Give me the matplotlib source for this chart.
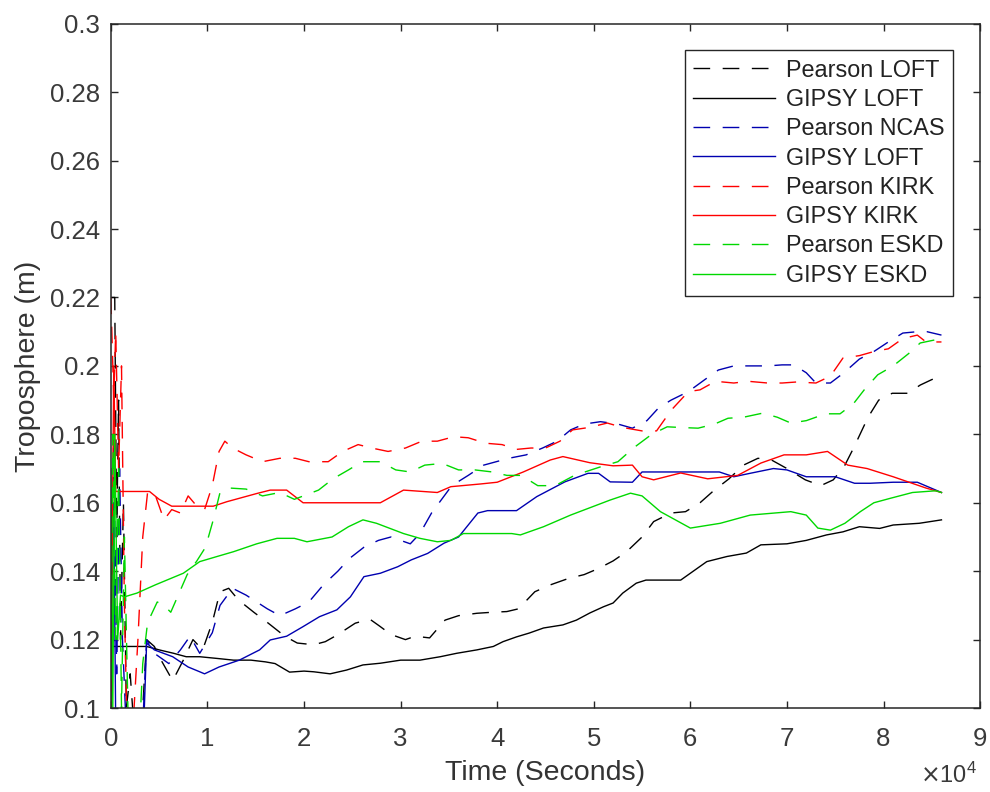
import matplotlib
matplotlib.use("Agg")
import matplotlib.pyplot as plt
from matplotlib.ticker import FuncFormatter, MultipleLocator

plt.rcParams['font.family'] = ['Liberation Sans', 'DejaVu Sans']

# time in units of 1e4 s, troposphere delay in m
t_p_loft = [0, 0.04, 0.06, 0.08, 0.10, 0.13, 0.16, 0.20, 0.25, 0.32, 0.37, 0.45, 0.52, 0.64, 0.75, 0.85,
            0.95, 1.05, 1.13, 1.22, 1.32, 1.48, 1.63, 1.8, 1.93, 2.1, 2.22, 2.34, 2.53, 2.68, 2.78, 2.9,
            3.05, 3.15, 3.3, 3.46, 3.6, 3.79, 3.95, 4.1, 4.22, 4.39, 4.55, 4.74, 4.9, 5.05, 5.2, 5.34,
            5.5, 5.62, 5.8, 5.95, 6.1, 6.24, 6.4, 6.55, 6.7, 6.84, 7.0, 7.19, 7.35, 7.48, 7.6, 7.69,
            7.84, 7.95, 8.09, 8.25, 8.38, 8.5, 8.6]
v_p_loft = [0.22, 0.22, 0.15, 0.19, 0.12, 0.16, 0.10, 0.11, 0.09, 0.095, 0.12, 0.118, 0.114, 0.108, 0.114, 0.12,
            0.117, 0.125, 0.134, 0.135, 0.1316, 0.128, 0.1248, 0.121, 0.119, 0.1185, 0.1194, 0.1213, 0.1248, 0.126, 0.124, 0.1215,
            0.12, 0.121, 0.1205, 0.1257, 0.127, 0.1277, 0.128, 0.1282, 0.129, 0.134, 0.136, 0.1379, 0.139, 0.1408, 0.143, 0.1457,
            0.15, 0.1545, 0.157, 0.1574, 0.16, 0.1635, 0.167, 0.171, 0.173, 0.1725, 0.17, 0.1667, 0.165, 0.1667, 0.171, 0.176,
            0.185, 0.19, 0.192, 0.192, 0.1944, 0.196, 0.197]

t_g_loft = [0, 0.003, 0.37, 0.5, 0.65, 0.78, 0.92, 1.1, 1.27, 1.45, 1.6, 1.7, 1.85, 2.0, 2.1, 2.27, 2.44,
            2.61, 2.79, 3.0, 3.2, 3.41, 3.58, 3.79, 3.96, 4.06, 4.2, 4.33, 4.48, 4.68, 4.82, 4.96, 5.1,
            5.2, 5.3, 5.44, 5.54, 5.69, 5.9, 6.0, 6.17, 6.38, 6.58, 6.73, 7.0, 7.2, 7.41, 7.58, 7.75,
            7.96, 8.1, 8.37, 8.6]
v_g_loft = [0.095, 0.118, 0.118, 0.117, 0.116, 0.115, 0.115, 0.1145, 0.114, 0.114, 0.1135, 0.113, 0.1105, 0.1108, 0.1106, 0.110, 0.1111,
            0.1126, 0.1131, 0.114, 0.114, 0.115, 0.116, 0.117, 0.118, 0.1194, 0.1208, 0.1219, 0.1234, 0.1243, 0.1257, 0.1278, 0.1296,
            0.1307, 0.1336, 0.1365, 0.1374, 0.1374, 0.1374, 0.1394, 0.1428, 0.1443, 0.1453, 0.1477, 0.148, 0.149, 0.1506, 0.1515, 0.153,
            0.1525, 0.1535, 0.154, 0.155]

t_p_ncas = [0, 0.03, 0.06, 0.09, 0.12, 0.15, 0.25, 0.33, 0.37, 0.45, 0.6, 0.72, 0.82, 0.92, 1.05, 1.13,
            1.26, 1.4, 1.62, 1.75, 1.91, 2.05, 2.2, 2.35, 2.47, 2.62, 2.77, 2.9, 3.1, 3.2, 3.32, 3.53,
            3.7, 3.86, 4.12, 4.3, 4.47, 4.62, 4.76, 4.9, 5.07, 5.25, 5.4, 5.55, 5.67, 5.8, 5.98, 6.15,
            6.29, 6.45, 6.62, 6.8, 6.95, 7.07, 7.2, 7.3, 7.45, 7.59, 7.75, 7.9, 8.05, 8.2, 8.35, 8.45, 8.6]
v_p_ncas = [0.12, 0.18, 0.11, 0.17, 0.12, 0.10, 0.095, 0.095, 0.12, 0.116, 0.113, 0.117, 0.121, 0.116, 0.122, 0.13,
            0.135, 0.133, 0.129, 0.127, 0.129, 0.131, 0.136, 0.14, 0.1437, 0.147, 0.149, 0.15, 0.148, 0.151, 0.157, 0.165,
            0.168, 0.171, 0.173, 0.174, 0.176, 0.178, 0.1813, 0.183, 0.1837, 0.183, 0.1818, 0.184, 0.1877, 0.19, 0.1925, 0.196,
            0.1988, 0.2, 0.2, 0.2, 0.2003, 0.2003, 0.198, 0.195, 0.195, 0.198, 0.202, 0.2042, 0.207, 0.2096, 0.21, 0.21, 0.209]

t_g_ncas = [0, 0.03, 0.05, 0.34, 0.37, 0.45, 0.64, 0.8, 0.92, 0.97, 1.12, 1.33, 1.54, 1.65, 1.82, 1.99,
            2.16, 2.34, 2.48, 2.62, 2.79, 2.97, 3.11, 3.28, 3.45, 3.6, 3.8, 3.9, 4.2, 4.41, 4.7, 4.94,
            5.05, 5.17, 5.4, 5.5, 6.0, 6.3, 6.45, 6.6, 6.86, 7.0, 7.2, 7.5, 7.7, 7.86, 8.1, 8.35, 8.6]
v_g_ncas = [0.12, 0.16, 0.095, 0.095, 0.119, 0.117, 0.115, 0.112, 0.1106, 0.110, 0.112, 0.114, 0.117, 0.1199, 0.121, 0.1238,
            0.1267, 0.1287, 0.1325, 0.1384, 0.1394, 0.1413, 0.1433, 0.1452, 0.1482, 0.150, 0.157, 0.1577, 0.1577, 0.1618, 0.1661, 0.1686,
            0.1686, 0.1661, 0.166, 0.169, 0.169, 0.169, 0.1676, 0.1685, 0.170, 0.1696, 0.1676, 0.1676, 0.1657, 0.1657, 0.166, 0.166, 0.163]

t_p_kirk = [0, 0.03, 0.05, 0.08, 0.11, 0.14, 0.17, 0.23, 0.28, 0.33, 0.38, 0.45, 0.55, 0.63, 0.72, 0.8,
            0.89, 0.97, 1.05, 1.12, 1.18, 1.26, 1.4, 1.57, 1.75, 1.91, 2.05, 2.25, 2.4, 2.56, 2.7, 2.87,
            3.05, 3.22, 3.38, 3.55, 3.7, 3.88, 4.05, 4.2, 4.35, 4.5, 4.65, 4.78, 4.95, 5.14, 5.3, 5.5,
            5.65, 5.8, 5.98, 6.1, 6.26, 6.45, 6.6, 6.8, 6.95, 7.1, 7.3, 7.45, 7.58, 7.75, 7.9, 8.05,
            8.2, 8.35, 8.44, 8.6]
v_p_kirk = [0.22, 0.19, 0.21, 0.17, 0.20, 0.13, 0.09, 0.095, 0.12, 0.15, 0.163, 0.163, 0.155, 0.158, 0.157, 0.162,
            0.159, 0.158, 0.165, 0.175, 0.178, 0.176, 0.174, 0.172, 0.173, 0.173, 0.172, 0.172, 0.175, 0.177, 0.176, 0.175,
            0.176, 0.178, 0.178, 0.1793, 0.179, 0.1774, 0.177, 0.1756, 0.176, 0.176, 0.178, 0.1813, 0.182, 0.1833, 0.182, 0.181,
            0.181, 0.187, 0.1925, 0.193, 0.1955, 0.195, 0.1955, 0.195, 0.195, 0.1953, 0.195, 0.197, 0.2023, 0.203, 0.2042, 0.205,
            0.208, 0.209, 0.207, 0.207]

t_g_kirk = [0, 0.03, 0.05, 0.13, 0.4, 0.5, 0.63, 1.06, 1.2, 1.51, 1.65, 1.82, 1.99, 2.79, 3.03, 3.38,
            3.52, 3.83, 4.0, 4.27, 4.55, 4.68, 4.96, 5.2, 5.4, 5.5, 5.62, 5.9, 6.18, 6.49, 6.73, 6.97,
            7.2, 7.42, 7.63, 7.83, 8.1, 8.44, 8.6]
v_g_kirk = [0.10, 0.20, 0.1633, 0.1633, 0.1633, 0.161, 0.159, 0.159, 0.1603, 0.1627, 0.1637, 0.1637, 0.16, 0.16, 0.1637, 0.163,
            0.1647, 0.1655, 0.166, 0.169, 0.1725, 0.1735, 0.1717, 0.1708, 0.171, 0.1676, 0.1667, 0.1687, 0.167, 0.168, 0.1716, 0.174,
            0.174, 0.175, 0.171, 0.170, 0.1676, 0.1643, 0.163]

t_p_eskd = [0, 0.02, 0.05, 0.08, 0.11, 0.14, 0.18, 0.3, 0.33, 0.38, 0.48, 0.55, 0.62, 0.79, 0.89, 0.98,
            1.06, 1.13, 1.23, 1.4, 1.57, 1.75, 1.9, 2.15, 2.3, 2.46, 2.6, 2.79, 2.95, 3.1, 3.25, 3.43,
            3.6, 3.77, 3.95, 4.1, 4.25, 4.42, 4.6, 4.8, 5.07, 5.25, 5.41, 5.6, 5.76, 5.9, 6.08, 6.25,
            6.39, 6.55, 6.75, 6.9, 7.04, 7.2, 7.4, 7.55, 7.69, 7.8, 7.94, 8.1, 8.26, 8.38, 8.6]
v_p_eskd = [0.10, 0.18, 0.12, 0.17, 0.10, 0.15, 0.095, 0.095, 0.113, 0.125, 0.131, 0.13, 0.128, 0.139, 0.143, 0.147,
            0.155, 0.163, 0.1643, 0.164, 0.162, 0.163, 0.161, 0.1637, 0.167, 0.1696, 0.172, 0.172, 0.1696, 0.169, 0.171, 0.1715,
            0.1696, 0.1696, 0.169, 0.168, 0.168, 0.165, 0.165, 0.168, 0.1705, 0.172, 0.176, 0.18, 0.1822, 0.182, 0.1818, 0.183,
            0.1847, 0.185, 0.1862, 0.185, 0.1833, 0.184, 0.186, 0.186, 0.189, 0.193, 0.1974, 0.2, 0.2036, 0.2067, 0.208]

t_g_eskd = [0, 0.02, 0.04, 0.07, 0.1, 0.14, 0.27, 0.46, 0.75, 0.92, 1.1, 1.27, 1.51, 1.72, 1.9, 2.03,
            2.29, 2.46, 2.61, 2.75, 3.03, 3.2, 3.38, 3.52, 3.65, 4.15, 4.24, 4.48, 4.76, 5.17, 5.38, 5.5,
            5.69, 6.0, 6.31, 6.62, 7.04, 7.2, 7.32, 7.45, 7.6, 7.76, 7.9, 8.07, 8.3, 8.54, 8.6]
v_g_eskd = [0.17, 0.10, 0.18, 0.12, 0.133, 0.1325, 0.1336, 0.136, 0.1394, 0.1428, 0.1443, 0.1457, 0.148, 0.1496, 0.1496, 0.1486,
            0.150, 0.153, 0.155, 0.154, 0.151, 0.1496, 0.1486, 0.149, 0.151, 0.151, 0.1506, 0.153, 0.1564, 0.1608, 0.1628, 0.162,
            0.1574, 0.1526, 0.154, 0.1564, 0.1574, 0.1564, 0.1526, 0.152, 0.154, 0.1574, 0.16, 0.1613, 0.163, 0.1635, 0.163]

labels = ['Pearson LOFT', 'GIPSY LOFT', 'Pearson NCAS', 'GIPSY LOFT',
          'Pearson KIRK', 'GIPSY KIRK', 'Pearson ESKD', 'GIPSY ESKD']

blk = '#000000'
blu = '#0000b0'
red = '#ff0000'
grn = '#00d800'
dash = (0, (12, 9))

series = [
    (t_p_loft, v_p_loft, blk, dash),
    (t_g_loft, v_g_loft, blk, '-'),
    (t_p_ncas, v_p_ncas, blu, dash),
    (t_g_ncas, v_g_ncas, blu, '-'),
    (t_p_kirk, v_p_kirk, red, dash),
    (t_g_kirk, v_g_kirk, red, '-'),
    (t_p_eskd, v_p_eskd, grn, dash),
    (t_g_eskd, v_g_eskd, grn, '-'),
]

fig = plt.figure(figsize=(9.9, 7.92), dpi=100)
ax = fig.add_axes([0.112, 0.106, 0.878, 0.864])

for (t, v, c, ls), lab in zip(series, labels):
    ax.plot([x * 1e4 for x in t], v, color=c, linestyle=ls, linewidth=1.0, label=lab)

ax.set_xlim(0, 9e4)
ax.set_ylim(0.1, 0.3)
ax.xaxis.set_major_locator(MultipleLocator(1e4))
ax.yaxis.set_major_locator(MultipleLocator(0.02))
ax.xaxis.set_major_formatter(FuncFormatter(lambda x, p: '%g' % round(x / 1e4, 3)))
ax.yaxis.set_major_formatter(FuncFormatter(lambda y, p: '%g' % round(y, 3)))

axc = '#262626'
for s in ax.spines.values():
    s.set_color(axc)
    s.set_linewidth(1.1)
ax.tick_params(direction='in', length=5, width=1.0, colors=axc, labelsize=18.5,
               top=True, right=True, pad=8)
ax.tick_params(axis='x', pad=14)
for lab in ax.get_xticklabels() + ax.get_yticklabels():
    lab.set_color('#3a3a3a')

ax.set_xlabel('Time (Seconds)', fontsize=20.5, color='#333333', labelpad=6)
ax.set_ylabel('Troposphere (m)', fontsize=20.5, color='#333333', labelpad=6)
fig.text(0.987, 0.005, r'$\times\mathregular{10^4}$', ha='right', va='bottom',
         fontsize=17, color='#3a3a3a')

leg = ax.legend(loc='upper right', bbox_to_anchor=(0.969, 0.962), borderaxespad=0,
                fontsize=16.8, handlelength=3.5, handletextpad=0.45, labelspacing=0.27,
                borderpad=0.38, fancybox=False, framealpha=1, edgecolor=axc)
leg.get_frame().set_linewidth(1.0)
for txt in leg.get_texts():
    txt.set_color('#222222')

fig.savefig('out.png', dpi=100)
